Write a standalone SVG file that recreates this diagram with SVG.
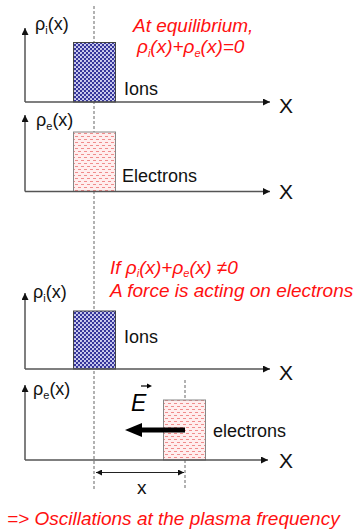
<svg xmlns="http://www.w3.org/2000/svg" width="360" height="529" viewBox="0 0 360 529">
<defs>
  <pattern id="ionPat" width="4" height="4" patternUnits="userSpaceOnUse">
    <rect width="4" height="4" fill="#35359a"/>
    <circle cx="1" cy="1" r="1.05" fill="#dcdcf8"/>
    <circle cx="3" cy="3" r="1.05" fill="#dcdcf8"/>
  </pattern>
  <pattern id="elPat" width="6" height="6" patternUnits="userSpaceOnUse">
    <rect width="6" height="6" fill="#ffeeee"/>
    <line x1="0" y1="1.5" x2="3" y2="1.5" stroke="#f08c8c" stroke-width="1"/>
    <line x1="3" y1="4.5" x2="6" y2="4.5" stroke="#f08c8c" stroke-width="1"/>
  </pattern>
  <marker id="ah" viewBox="0 0 10 10" refX="10" refY="5" markerWidth="8" markerHeight="7" markerUnits="userSpaceOnUse" orient="auto">
    <path d="M0,0 L10,5 L0,10 Z" fill="#111"/>
  </marker>
  <marker id="ahs" viewBox="0 0 10 10" refX="10" refY="5" markerWidth="6" markerHeight="6" markerUnits="userSpaceOnUse" orient="auto-start-reverse">
    <path d="M0,0 L10,5 L0,10 Z" fill="#111"/>
  </marker>
</defs>
<style>
  .axis { stroke: #555; stroke-width: 1.5; fill: none; marker-end: url(#ah); }
  .dash { stroke: #999; stroke-width: 1.5; stroke-dasharray: 3 2; fill: none; }
  .ions { fill: url(#ionPat); stroke: #444; stroke-width: 1; }
  .elec { fill: url(#elPat); stroke: #888; stroke-width: 1; }
  .lbl { font-family: "Liberation Sans", Arial, sans-serif; font-size: 18px; fill: #111; }
  .xl { font-family: "Liberation Sans", Arial, sans-serif; font-size: 21px; fill: #111; }
  .red { font-family: "Liberation Sans", Arial, sans-serif; font-size: 19px; font-style: italic; fill: #ff1010; }
  .sub { font-size: 11px; }
</style>
<rect width="360" height="529" fill="#ffffff"/>

<g id="connectors">
  <line class="dash" x1="94" y1="6" x2="94" y2="489"/>
  <line class="dash" x1="185" y1="380" x2="185" y2="488"/>
  <line x1="96" y1="472.5" x2="184" y2="472.5" stroke="#222" stroke-width="1.2" marker-start="url(#ahs)" marker-end="url(#ahs)"/>
</g>

<g id="panel-ions-eq">
  <line class="axis" x1="25" y1="102" x2="25" y2="28"/>
  <rect class="ions" x="73.5" y="42.5" width="42" height="59.5"/>
  <line class="axis" x1="25" y1="102" x2="270" y2="102"/>
  <text class="lbl" x="35" y="30">ρ<tspan class="sub" dy="4">i</tspan><tspan dy="-4">(x)</tspan></text>
  <text class="lbl" x="124" y="95">Ions</text>
  <text class="xl" x="279" y="113">X</text>
</g>

<g id="panel-electrons-eq">
  <line class="axis" x1="25" y1="191.5" x2="25" y2="115"/>
  <rect class="elec" x="73.5" y="132" width="42" height="59.5"/>
  <line class="axis" x1="25" y1="191.5" x2="270" y2="191.5"/>
  <text class="lbl" x="36" y="126">ρ<tspan class="sub" dy="4">e</tspan><tspan dy="-4">(x)</tspan></text>
  <text class="lbl" x="122" y="181.5">Electrons</text>
  <text class="xl" x="279" y="199">X</text>
</g>

<g id="text-equilibrium">
  <text class="red" x="133" y="32">At equilibrium,</text>
  <text class="red" x="137" y="53">ρ<tspan class="sub" dy="4">i</tspan><tspan dy="-4">(x)+ρ</tspan><tspan class="sub" dy="4">e</tspan><tspan dy="-4">(x)=0</tspan></text>
</g>

<g id="text-force">
  <text class="red" x="110" y="274">If ρ<tspan class="sub" dy="3">i</tspan><tspan dy="-3">(x)+ρ</tspan><tspan class="sub" dy="3">e</tspan><tspan dy="-3">(x) ≠0</tspan></text>
  <text class="red" x="110" y="297">A force is acting on electrons</text>
</g>

<g id="panel-ions">
  <line class="axis" x1="25" y1="369" x2="25" y2="293"/>
  <rect class="ions" x="73.5" y="311" width="42" height="58"/>
  <line class="axis" x1="25" y1="369" x2="270" y2="369"/>
  <text class="lbl" x="33" y="298">ρ<tspan class="sub" dy="4">i</tspan><tspan dy="-4">(x)</tspan></text>
  <text class="lbl" x="124" y="343">Ions</text>
  <text class="xl" x="279" y="380">X</text>
</g>

<g id="panel-electrons">
  <line class="axis" x1="25" y1="460" x2="25" y2="385"/>
  <rect class="elec" x="163.5" y="400" width="42" height="60"/>
  <line class="axis" x1="25" y1="460" x2="268" y2="460"/>
  <text class="lbl" x="33" y="395">ρ<tspan class="sub" dy="4">e</tspan><tspan dy="-4">(x)</tspan></text>
  <text class="lbl" x="213" y="436.5">electrons</text>
  <text class="xl" x="279" y="468">X</text>
</g>

<g id="field-E">
  <line x1="140" y1="430" x2="185" y2="430" stroke="#000" stroke-width="5"/>
  <path d="M125,430 L142,423 L142,437 Z" fill="#000"/>
  <text x="131" y="411" font-family="Liberation Sans, Arial, sans-serif" font-size="23" font-style="italic" fill="#000">E</text>
  <line x1="141" y1="386" x2="148" y2="386" stroke="#000" stroke-width="1.2"/>
  <path d="M152,386 L147,383.5 L147,388.5 Z" fill="#000"/>
</g>

<text class="lbl" x="137" y="494" style="font-size:19px">x</text>
<text class="red" x="7" y="525">=&gt; Oscillations at the plasma frequency</text>
</svg>
